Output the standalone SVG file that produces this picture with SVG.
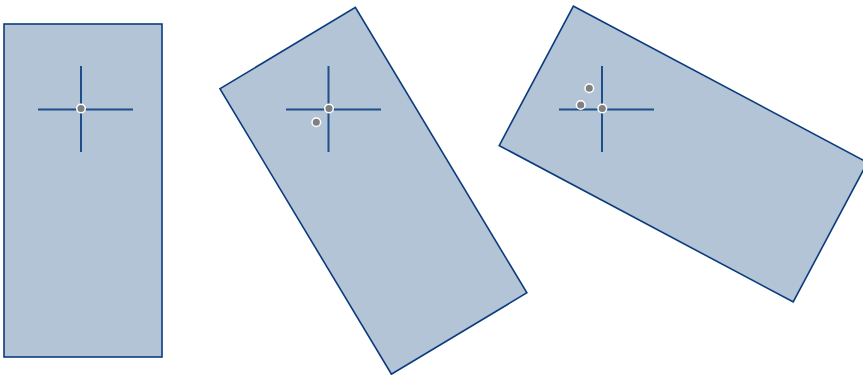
<svg xmlns="http://www.w3.org/2000/svg" width="863" height="375" viewBox="0 0 863 375">
<style>
.box{fill:#b3c4d7;stroke:#0b3c7d;stroke-width:1.6}
.cross{stroke:#1d4f8a;stroke-width:2;fill:none}
.dot{fill:#808080;stroke:#ffffff;stroke-width:1.5}
</style>
<rect width="863" height="375" fill="#ffffff"/>
<g id="node1">
<rect class="box" x="4" y="24" width="158" height="333"/>
<path class="cross" d="M38 109.5H133M81 66V152"/>
<circle class="dot" cx="81" cy="108.5" r="4.3"/>
</g>
<g id="node2">
<rect class="box" x="-79" y="-166.5" width="158" height="333" transform="translate(373.4 190.8) rotate(-31)"/>
<path class="cross" d="M286 109.5H381M328.5 66V152"/>
<circle class="dot" cx="329" cy="108.5" r="4.3"/>
<circle class="dot" cx="316.3" cy="122.3" r="4.3"/>
</g>
<g id="node3">
<rect class="box" x="-79" y="-166.5" width="158" height="333" transform="translate(683.3 154) rotate(-62)"/>
<path class="cross" d="M559 109.5H654M602 66V152"/>
<circle class="dot" cx="602.3" cy="108.5" r="4.3"/>
<circle class="dot" cx="580.7" cy="105" r="4.3"/>
<circle class="dot" cx="589.3" cy="88.3" r="4.3"/>
</g>
<g id="connectors"></g>
</svg>
